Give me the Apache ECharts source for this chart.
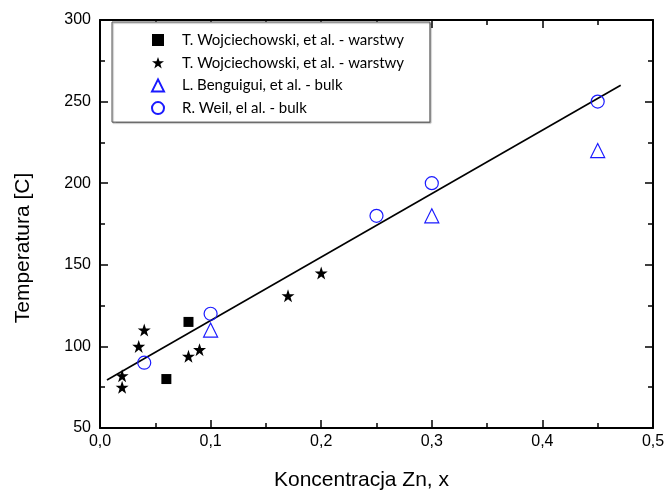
<!DOCTYPE html>
<html><head><meta charset="utf-8">
<script src="https://cdn.jsdelivr.net/npm/echarts@6/dist/echarts.min.js"></script>
<style>html,body{margin:0;padding:0;background:#fff}#c{width:665px;height:491px}</style>
</head><body><div id="c"></div>
<script>
const seriesNames = ['T. Wojciechowski, et al. - warstwy', 'T. Wojciechowski, et al. - warstwy ', 'L. Benguigui, et al. - bulk', 'R. Weil, el al. - bulk'];
const squares = [[0.06, 80], [0.08, 115]];
const stars = [[0.02, 82], [0.02, 75], [0.035, 100], [0.04, 110], [0.08, 94], [0.09, 98], [0.17, 131], [0.2, 145]];
const triangles = [[0.1, 110], [0.3, 180], [0.45, 220]];
const circles = [[0.04, 90], [0.1, 120], [0.25, 180], [0.3, 200], [0.45, 250]];
const fitLine = [[0.0063, 79.4], [0.4708, 260]];
const xTitle = 'Koncentracja Zn, x';
const yTitle = 'Temperatura [C]';

const starPath = 'path://M50,0 L61.8,34.5 L97.6,34.5 L68.6,56 L79.4,90.5 L50,69.3 L20.6,90.5 L31.4,56 L2.4,34.5 L38.2,34.5 Z';
const blue = '#1a1aff';
const font = 'Liberation Sans, Arial, sans-serif';
const chart = echarts.init(document.getElementById('c'));
function axisCommon() {
  return {
    axisLine: {show: true, onZero: false, lineStyle: {color: '#000', width: 2}},
    axisTick: {show: true, inside: true, length: 8, lineStyle: {color: '#000', width: 1.5}},
    minorTick: {show: true, splitNumber: 2, length: 5, lineStyle: {color: '#000', width: 1.5}},
    splitLine: {show: false}
  };
}
chart.setOption({
  animation: false,
  grid: {left: 100, right: 12, top: 20, bottom: 63, outerBoundsMode: 'none'},
  xAxis: [
    Object.assign(axisCommon(), {type: 'value', min: 0, max: 0.5, interval: 0.1, position: 'bottom',
      name: xTitle, nameLocation: 'middle', nameGap: 42,
      nameTextStyle: {fontFamily: font, fontSize: 21, color: '#000', padding: [0, 30, 0, 0]},
      axisLabel: {margin: 6, fontFamily: font, fontSize: 16, color: '#000',
        formatter: v => v.toFixed(1).replace('.', ',')}}),
    Object.assign(axisCommon(), {type: 'value', min: 0, max: 0.5, interval: 0.1, position: 'top',
      axisLabel: {show: false}})
  ],
  yAxis: [
    Object.assign(axisCommon(), {type: 'value', min: 50, max: 300, interval: 50, position: 'left',
      name: yTitle, nameLocation: 'middle', nameGap: 66, nameRotate: 90,
      nameTextStyle: {fontFamily: font, fontSize: 21, color: '#000', padding: [0, 48, 0, 0]},
      axisLabel: {margin: 9, fontFamily: font, fontSize: 16, color: '#000'}}),
    Object.assign(axisCommon(), {type: 'value', min: 50, max: 300, interval: 50, position: 'right',
      axisLabel: {show: false}})
  ],
  legend: {
    data: [
      {name: seriesNames[0], icon: 'rect'},
      {name: seriesNames[1], icon: starPath},
      {name: seriesNames[2], icon: 'triangle'},
      {name: seriesNames[3], icon: 'circle'}
    ],
    orient: 'vertical', left: 112, top: 22,
    padding: [9, 22, 5, 39],
    itemWidth: 12, itemHeight: 12, itemGap: 4.7,
    borderColor: '#555', borderWidth: 1, backgroundColor: '#fff',
    shadowColor: 'rgba(0,0,0,0.35)', shadowOffsetX: 1, shadowOffsetY: 1, shadowBlur: 1,
    textStyle: {fontFamily: 'Lato, Carlito, sans-serif', fontSize: 15, lineHeight: 18, color: '#000', padding: [0, 0, 0, 13]}
  },
  series: [
    {type: 'line', data: fitLine, showSymbol: false, symbol: 'none', lineStyle: {color: '#000', width: 1.6}, z: 1, silent: true},
    {name: seriesNames[0], type: 'scatter', data: squares, symbol: 'rect', symbolSize: 10, itemStyle: {color: '#000', opacity: 1}},
    {name: seriesNames[1], type: 'scatter', data: stars, symbol: starPath, symbolSize: 13, itemStyle: {color: '#000', opacity: 1}},
    {name: seriesNames[2], type: 'scatter', data: triangles, symbol: 'triangle', symbolSize: 14,
      itemStyle: {color: 'rgba(0,0,0,0)', borderColor: blue, borderWidth: 1.2, opacity: 1}},
    {name: seriesNames[3], type: 'scatter', data: circles, symbol: 'circle', symbolSize: 13,
      itemStyle: {color: 'rgba(0,0,0,0)', borderColor: blue, borderWidth: 1.2, opacity: 1}}
  ]
});
</script></body></html>
